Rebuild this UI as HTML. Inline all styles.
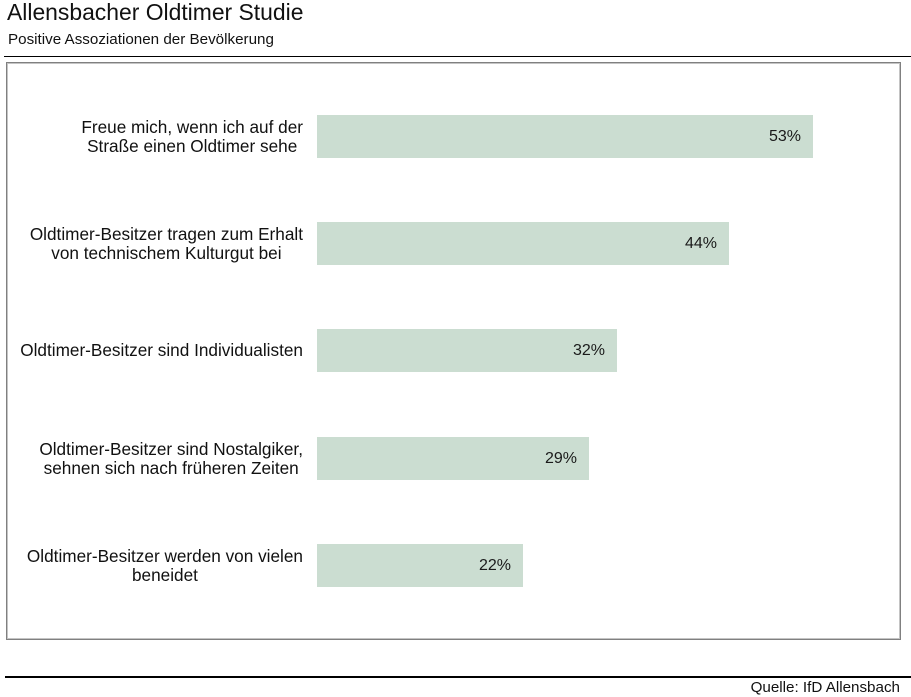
<!DOCTYPE html>
<html>
<head>
<meta charset="utf-8">
<style>
  html, body { margin:0; padding:0; }
  body { width:911px; height:697px; position:relative; background:#fff; overflow:hidden;
         font-family:"Liberation Sans", Arial, sans-serif; color:#111; }
  .title { position:absolute; left:7px; top:1px; font-size:22.9px; line-height:22.9px; white-space:nowrap; }
  .sub { position:absolute; left:8px; top:32px; font-size:15.2px; line-height:15.2px; white-space:nowrap; }
  .rule { position:absolute; height:1.5px; background:#000; }
  .frame { position:absolute; left:6px; top:62px; width:893px; height:576px;
           border:1px solid #808080; box-shadow: inset 0 0 0 1px #c4c4c4; }
  .bar { position:absolute; left:317px; height:43px; background:#cbddd1; }
  .val { position:absolute; right:12px; top:0; height:43px; line-height:43px; font-size:16px; color:#1a1a1a; }
  .lab { position:absolute; right:608px; height:43px; display:flex; align-items:center; }
  .lab div { text-align:center; font-size:17.2px; line-height:19px; white-space:nowrap; }
  .src { position:absolute; right:11px; top:680px; font-size:15.2px; line-height:15px; white-space:nowrap; }
</style>
</head>
<body>
  <div class="title">Allensbacher Oldtimer Studie</div>
  <div class="sub">Positive Assoziationen der Bevölkerung</div>
  <div class="rule" style="left:4px; width:907px; top:55.5px;"></div>
  <div class="frame"></div>

  <div class="lab" style="top:115px;"><div>Freue mich, wenn ich auf der<br>Straße einen Oldtimer sehe</div></div>
  <div class="bar" style="top:115px; width:496px;"><span class="val">53%</span></div>

  <div class="lab" style="top:222px;"><div>Oldtimer-Besitzer tragen zum Erhalt<br>von technischem Kulturgut bei</div></div>
  <div class="bar" style="top:222px; width:412px;"><span class="val">44%</span></div>

  <div class="lab" style="top:329px;"><div>Oldtimer-Besitzer sind Individualisten</div></div>
  <div class="bar" style="top:329px; width:300px;"><span class="val">32%</span></div>

  <div class="lab" style="top:437px;"><div>Oldtimer-Besitzer sind Nostalgiker,<br>sehnen sich nach früheren Zeiten</div></div>
  <div class="bar" style="top:437px; width:272px;"><span class="val">29%</span></div>

  <div class="lab" style="top:544px;"><div>Oldtimer-Besitzer werden von vielen<br>beneidet</div></div>
  <div class="bar" style="top:544px; width:206px;"><span class="val">22%</span></div>

  <div class="rule" style="left:5px; width:906px; top:676px;"></div>
  <div class="src">Quelle: IfD Allensbach</div>
</body>
</html>
